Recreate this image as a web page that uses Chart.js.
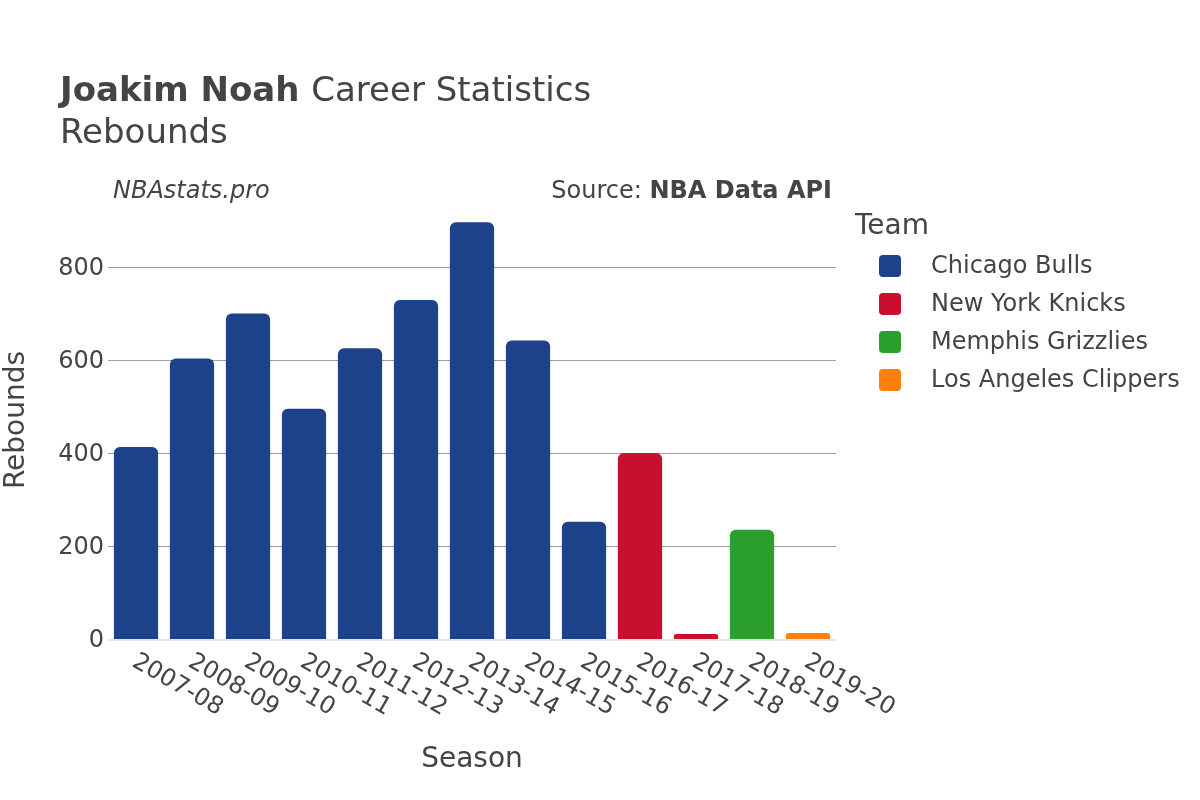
<!DOCTYPE html>
<html lang="en">
<head>
  <meta charset="UTF-8">
  <title>Joakim Noah Career Statistics - Rebounds</title>
  <script src="https://cdn.jsdelivr.net/npm/chart.js"></script>
  <style>
    body { margin: 0; background: #fff; }
    canvas { display: block; }
  </style>
</head>
<body>
  <canvas id="chart" width="1200" height="800"></canvas>

  <script>
    // data
    const seasons = ['2007-08', '2008-09', '2009-10', '2010-11', '2011-12', '2012-13', '2013-14',
                     '2014-15', '2015-16', '2016-17', '2017-18', '2018-19', '2019-20'];
    const rebounds = [415, 605, 702, 497, 627, 731, 898, 644, 254, 402, 13, 237, 15];
    const seasonTeam = ['Chicago Bulls', 'Chicago Bulls', 'Chicago Bulls', 'Chicago Bulls', 'Chicago Bulls',
                        'Chicago Bulls', 'Chicago Bulls', 'Chicago Bulls', 'Chicago Bulls', 'New York Knicks',
                        'New York Knicks', 'Memphis Grizzlies', 'Los Angeles Clippers'];
    const teams = ['Chicago Bulls', 'New York Knicks', 'Memphis Grizzlies', 'Los Angeles Clippers'];
    const teamColors = ['#1d428a', '#c8102e', '#2ca02c', '#ff7f0e'];
    const yTicks = [0, 200, 400, 600, 800];

    const FONT = "'DejaVu Sans', sans-serif";
    const INK = '#444';

    const datasets = teams.map((team, i) => ({
      label: team,
      data: rebounds.map((v, j) => seasonTeam[j] === team ? v : null),
      backgroundColor: teamColors[i],
      borderRadius: 6,
      borderSkipped: 'bottom',
      barPercentage: 0.79,
      categoryPercentage: 1
    }));

    // titles, rotated season labels, axis titles and legend
    const decorations = {
      id: 'decorations',
      afterDraw(chart) {
        const ctx = chart.ctx;
        const area = chart.chartArea;
        ctx.save();
        ctx.fillStyle = INK;

        // main title
        ctx.textBaseline = 'alphabetic';
        ctx.textAlign = 'left';
        ctx.font = 'bold 34px ' + FONT;
        ctx.fillText('Joakim Noah', 60, 101);
        const w = ctx.measureText('Joakim Noah ').width;
        ctx.font = '34px ' + FONT;
        ctx.fillText('Career Statistics', 60 + w, 101);
        ctx.fillText('Rebounds', 60, 143);

        // sub texts
        ctx.textBaseline = 'middle';
        ctx.font = 'italic 24px ' + FONT;
        ctx.fillText('NBAstats.pro', 113, 192);
        ctx.textAlign = 'right';
        ctx.font = 'bold 24px ' + FONT;
        const api = 'NBA Data API';
        ctx.fillText(api, 832, 192);
        const aw = ctx.measureText(api).width;
        ctx.font = '24px ' + FONT;
        ctx.fillText('Source: ', 832 - aw, 192);

        // y tick labels
        const ys = chart.scales.y;
        ctx.textAlign = 'right';
        yTicks.forEach(v => ctx.fillText(String(v), area.left - 4, ys.getPixelForValue(v) + 1));

        // season labels
        const xs = chart.scales.x;
        ctx.textAlign = 'left';
        seasons.forEach((s, i) => {
          ctx.save();
          ctx.translate(xs.getPixelForTick(i) - 2, area.bottom + 20);
          ctx.rotate(Math.PI / 6);
          ctx.fillText(s, 0, 0);
          ctx.restore();
        });

        // axis titles
        ctx.textAlign = 'center';
        ctx.font = '28px ' + FONT;
        ctx.fillText('Season', (area.left + area.right) / 2, 760);
        ctx.save();
        ctx.translate(17, (area.top + area.bottom) / 2);
        ctx.rotate(-Math.PI / 2);
        ctx.fillText('Rebounds', 0, 0);
        ctx.restore();

        // legend
        ctx.textAlign = 'left';
        ctx.font = '28px ' + FONT;
        ctx.fillText('Team', 855, 227);
        ctx.font = '24px ' + FONT;
        chart.data.datasets.forEach((ds, i) => {
          const y = 266 + i * 38;
          ctx.fillStyle = ds.backgroundColor;
          ctx.beginPath();
          ctx.roundRect(879, y - 11, 22, 22, 4);
          ctx.fill();
          ctx.fillStyle = INK;
          ctx.fillText(ds.label, 931, y + 1);
        });

        ctx.restore();
      }
    };

    new Chart(document.getElementById('chart'), {
      type: 'bar',
      data: { labels: seasons, datasets: datasets },
      options: {
        responsive: false,
        animation: false,
        skipNull: true,
        layout: { padding: { top: 200, right: 364, left: 0, bottom: 0 } },
        plugins: {
          legend: { display: false },
          title: { display: false },
          tooltip: { enabled: false }
        },
        scales: {
          x: {
            grid: { display: false },
            border: { display: false },
            ticks: { display: false },
            afterFit(scale) { scale.height = 160; }
          },
          y: {
            min: 0,
            max: 946,
            afterFit(scale) { scale.width = 108; },
            afterBuildTicks(scale) {
              scale.ticks = yTicks.map(v => ({ value: v }));
            },
            border: { display: false },
            grid: {
              drawTicks: false,
              color: c => c.tick && c.tick.value === 0 ? '#e6e6e6' : '#a0a0a0',
              lineWidth: c => c.tick && c.tick.value === 0 ? 2 : 1
            },
            ticks: { display: false }
          }
        }
      },
      plugins: [decorations]
    });
  </script>
</body>
</html>
